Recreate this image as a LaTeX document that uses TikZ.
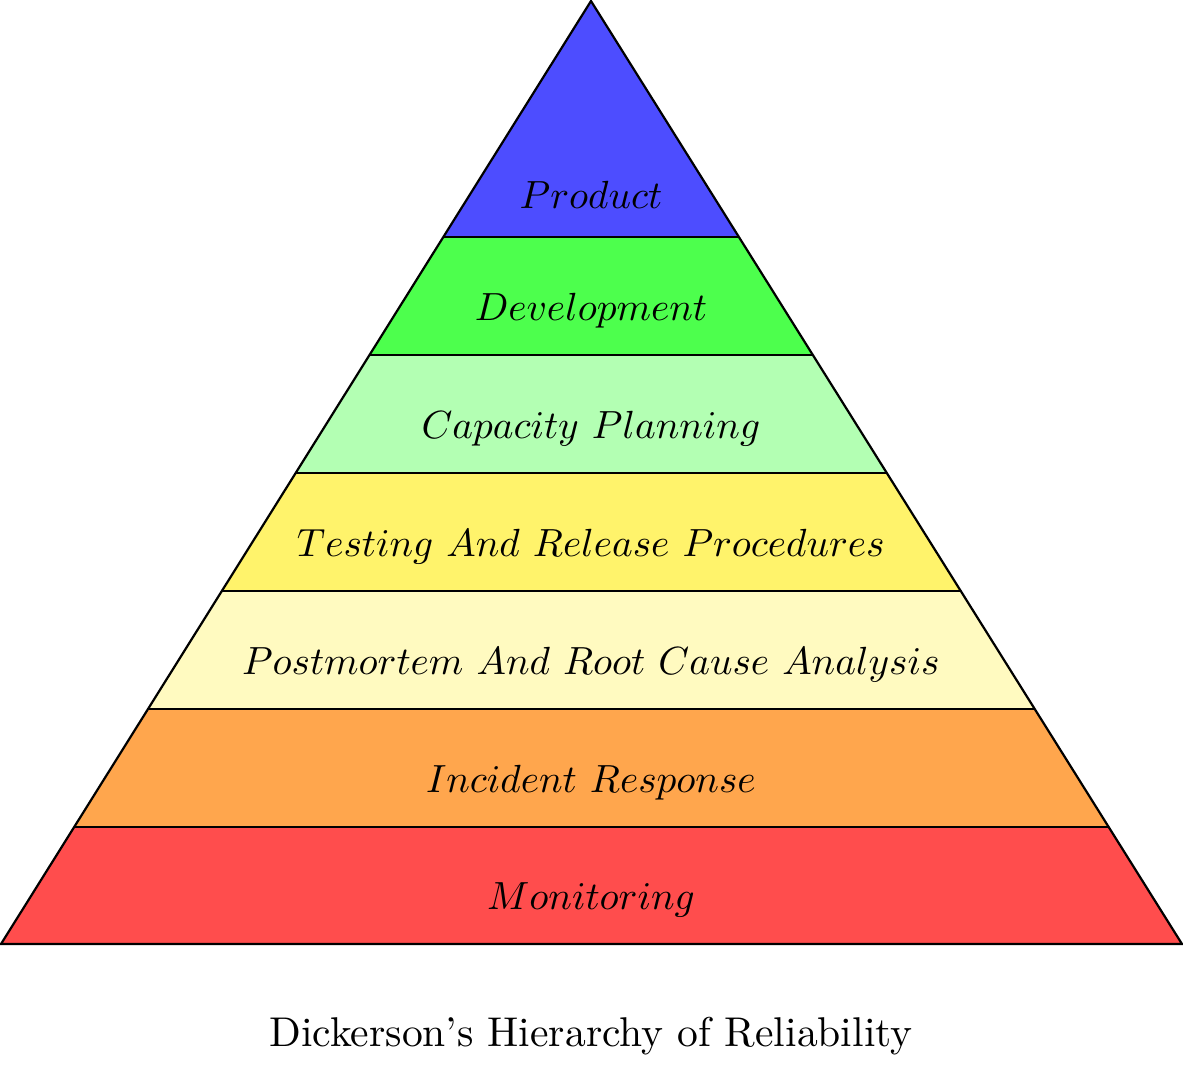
\documentclass[tikz,border=0pt]{standalone}
\begin{document}
\begin{tikzpicture}[x=0.25pt,y=-0.25pt,
  edge/.style={draw=black,line width=0.55pt,line join=miter},
  lbl/.style={anchor=base,inner sep=0pt,font=\fontsize{10.0}{12}\selectfont},
  ttl/.style={anchor=base,inner sep=0pt,font=\fontsize{10.4}{12}\selectfont}]
\definecolor{cProd}{RGB}{77,77,255}
\definecolor{cDev}{RGB}{77,255,77}
\definecolor{cCap}{RGB}{179,255,179}
\definecolor{cTest}{RGB}{255,243,107}
\definecolor{cPost}{RGB}{255,250,192}
\definecolor{cInc}{RGB}{255,166,77}
\definecolor{cMon}{RGB}{255,77,77}
\newcommand{\lyrtext}[1]{\scalebox{0.982}{$#1$}}
\useasboundingbox (0,0) rectangle (1183,1070);
\coordinate (apex) at (591,1);
\coordinate (bl) at (1,944);
\coordinate (br) at (1182,944);
\begin{scope}
  \clip (apex) -- (bl) -- (br) -- cycle;
  \fill[cMon]  (0,827) rectangle (1183,944);
  \fill[cInc]  (0,709) rectangle (1183,827);
  \fill[cPost] (0,591) rectangle (1183,709);
  \fill[cTest] (0,473) rectangle (1183,591);
  \fill[cCap]  (0,355) rectangle (1183,473);
  \fill[cDev]  (0,237) rectangle (1183,355);
  \fill[cProd] (0,0)   rectangle (1183,237);
  \foreach \yy in {237,355,473,591,709,827}
    \draw[line width=0.55pt] (0,\yy) -- (1183,\yy);
\end{scope}
\draw[edge] (apex) -- (bl) -- (br) -- cycle;
\node[lbl] (mon)  at (591,910) {\lyrtext{Monitoring}};
\node[lbl] (inc)  at (591,793) {\lyrtext{Incident\ Response}};
\node[lbl] (post) at (591,675) {\lyrtext{Postmortem\ And\ Root\ Cause\ Analysis}};
\node[lbl] (test) at (591,557) {\lyrtext{Testing\ And\ Release\ Procedures}};
\node[lbl] (cap)  at (591,439) {\lyrtext{Capacity\ Planning}};
\node[lbl] (dev)  at (591,321) {\lyrtext{Development}};
\node[lbl] (prod) at (591,209) {\lyrtext{Product}};
\node[ttl] (title) at (591,1047) {Dickerson's Hierarchy of Reliability};
\end{tikzpicture}
\end{document}
